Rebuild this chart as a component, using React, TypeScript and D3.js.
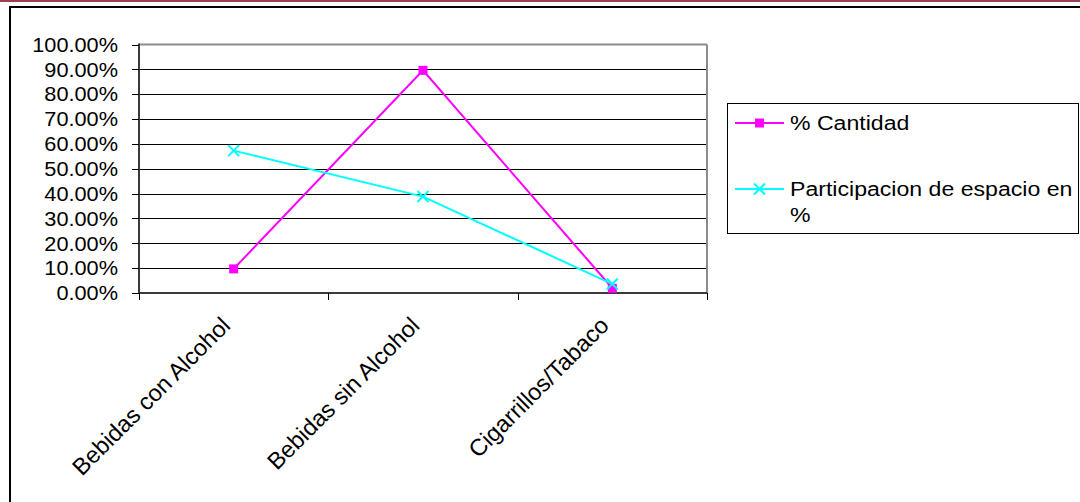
import React from "react";
import * as d3 from "d3";

const categories = ["Bebidas con Alcohol", "Bebidas sin Alcohol", "Cigarrillos/Tabaco"];
const cantidad = [0.097, 0.896, 0.019];
const participacion = [0.573, 0.388, 0.036];
const yTicks = [0, 0.1, 0.2, 0.3, 0.4, 0.5, 0.6, 0.7, 0.8, 0.9, 1.0];
const seriesNames = ["% Cantidad", "Participacion de espacio en", "%"];

const W = 1080;
const H = 502;
const plot = { left: 139, right: 707, top: 44.5, bottom: 293 };
const FONT = "'Liberation Sans', Arial, sans-serif";

export default function App() {
  const x = d3.scaleBand<string>().domain(categories).range([plot.left, plot.right]);
  const y = d3.scaleLinear().domain([0, 1]).range([plot.bottom, plot.top]);
  const cx = (c: string) => (x(c) as number) + x.bandwidth() / 2;
  const line = d3
    .line<number>()
    .x((_, i) => cx(categories[i]))
    .y((d) => y(d));
  const pct = d3.format(".2%");
  const xTickPos = [...categories.map((c) => x(c) as number), plot.right];
  const sq = 9;
  const xs = 5.5;

  return (
    <div style={{ position: "absolute", left: 0, top: 0 }}>
      <svg width={W} height={H} style={{ display: "block" }} fontFamily={FONT}>
        <rect x={0} y={0} width={W} height={H} fill="#fff" />
        <rect x={0} y={0} width={W} height={2} fill="#9a4050" />
        <rect x={10} y={7} width={W + 20} height={H + 20} fill="none" stroke="#000" strokeWidth={2} />

        {/* gridlines */}
        {yTicks.filter((t) => t > 0 && t < 1).map((t) => (
          <line key={t} x1={plot.left} x2={plot.right} y1={Math.round(y(t)) + 0.5} y2={Math.round(y(t)) + 0.5} stroke="#000" strokeWidth={1} />
        ))}
        {/* plot border */}
        <line x1={plot.left} x2={plot.right} y1={plot.top} y2={plot.top} stroke="#8c8c8c" strokeWidth={2} />
        <line x1={plot.right} x2={plot.right} y1={plot.top} y2={plot.bottom} stroke="#8c8c8c" strokeWidth={2} />
        {/* axes */}
        <line x1={plot.left} x2={plot.left} y1={plot.top - 1} y2={plot.bottom} stroke="#3a3a3a" strokeWidth={2} />
        <line x1={plot.left} x2={plot.right} y1={plot.bottom} y2={plot.bottom} stroke="#3a3a3a" strokeWidth={2} />
        {yTicks.map((t) => (
          <g key={t}>
            <line x1={plot.left - 7} x2={plot.left} y1={Math.round(y(t)) + 0.5} y2={Math.round(y(t)) + 0.5} stroke="#000" strokeWidth={1} />
            <text
              transform={`translate(118,${y(t)}) scale(1.06,1)`}
              textAnchor="end"
              dominantBaseline="central"
              fontSize={20.5}
              fill="#000"
            >
              {pct(t)}
            </text>
          </g>
        ))}
        {xTickPos.map((p, i) => (
          <line key={i} x1={Math.round(p) + 0.5} x2={Math.round(p) + 0.5} y1={plot.bottom} y2={plot.bottom + 7} stroke="#000" strokeWidth={1} />
        ))}
        {categories.map((c) => (
          <text
            key={c}
            transform={`translate(${cx(c) - 2},${plot.bottom + 34}) rotate(-45)`}
            textAnchor="end"
            fontSize={23.5}
            fill="#000"
          >
            {c}
          </text>
        ))}

        {/* series */}
        <path d={line(cantidad) as string} fill="none" stroke="#ff00ff" strokeWidth={2} />
        <path d={line(participacion) as string} fill="none" stroke="#00ffff" strokeWidth={2} />
        {cantidad.map((v, i) => (
          <rect key={i} x={cx(categories[i]) - sq / 2} y={y(v) - sq / 2} width={sq} height={sq} fill="#ff00ff" />
        ))}
        {participacion.map((v, i) => {
          const px = cx(categories[i]);
          const py = y(v);
          return (
            <path key={i} d={`M${px - xs},${py - xs}L${px + xs},${py + xs}M${px - xs},${py + xs}L${px + xs},${py - xs}`} stroke="#00ffff" strokeWidth={2} fill="none" />
          );
        })}

        {/* legend */}
        <rect x={727.5} y={103.5} width={351} height={130} fill="#fff" stroke="#000" strokeWidth={1} />
        <line x1={735} x2={784} y1={123} y2={123} stroke="#ff00ff" strokeWidth={2} />
        <rect x={759.5 - sq / 2} y={123 - sq / 2} width={sq} height={sq} fill="#ff00ff" />
        <text transform="translate(790,130) scale(1.1,1)" fontSize={21} fill="#000">{seriesNames[0]}</text>
        <line x1={735} x2={784} y1={189} y2={189} stroke="#00ffff" strokeWidth={2} />
        <path d={`M${759.5 - xs},${189 - xs}L${759.5 + xs},${189 + xs}M${759.5 - xs},${189 + xs}L${759.5 + xs},${189 - xs}`} stroke="#00ffff" strokeWidth={2} />
        <text transform="translate(790,196) scale(1.1,1)" fontSize={21} fill="#000">{seriesNames[1]}</text>
        <text transform="translate(790,222) scale(1.1,1)" fontSize={21} fill="#000">{seriesNames[2]}</text>
      </svg>
    </div>
  );
}
